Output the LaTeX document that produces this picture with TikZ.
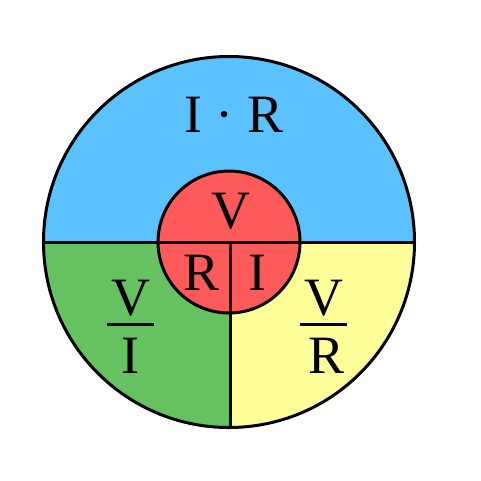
\documentclass[tikz,border=0pt]{standalone}
\usepackage{fontspec}
\setmainfont{Liberation Serif}
\definecolor{cblue}{RGB}{91,194,255}
\definecolor{cgreen}{RGB}{102,194,96}
\definecolor{cyellow}{RGB}{255,255,153}
\definecolor{cred}{RGB}{255,90,90}
\tikzset{
  outline/.style={draw=black,line width=3pt},
  bar/.style={draw=black,line width=3pt},
  lbl/.style={anchor=base,inner sep=0pt,font=\fontsize{54}{60}\selectfont,text=black}
}
\begin{document}
\begin{tikzpicture}[x=1pt,y=-1pt]
\useasboundingbox (0,0) rectangle (481,480);
\fill[white] (0,0) rectangle (481,480);
\coordinate (O) at (229,242);
\coordinate (L) at (43.5,242);
\coordinate (R) at (414.5,242);
\coordinate (C) at (230,242);
\coordinate (B) at (230,427.5);
\begin{scope}
\clip (O) circle (185.5);
\fill[cblue] (40,50) rectangle (420,242);
\fill[cgreen] (40,242) rectangle (230,432);
\fill[cyellow] (230,242) rectangle (420,432);
\end{scope}
\draw[outline] (O) circle (185.5);
\fill[cred] (O) circle (71);
\draw[outline] (O) circle (71);
\draw[outline] (L) -- (R);
\draw[outline] (C) -- (B);
% labels
\node[lbl] (ir) at (234,132) {I · R};
\node[lbl] (v) at (231,228) {V};
\node[lbl] (r) at (202,290) {R};
\node[lbl] (i) at (257.5,290) {I};
\node[lbl] (fv1) at (131,315) {V};
\node[lbl] (fi1) at (130,373) {I};
\coordinate (b1l) at (107,324);
\coordinate (b1r) at (154,324);
\draw[bar] (b1l) -- (b1r);
\node[lbl] (fv2) at (324,315) {V};
\node[lbl] (fr2) at (327,373) {R};
\coordinate (b2l) at (300,324);
\coordinate (b2r) at (347,324);
\draw[bar] (b2l) -- (b2r);
\end{tikzpicture}
\end{document}
